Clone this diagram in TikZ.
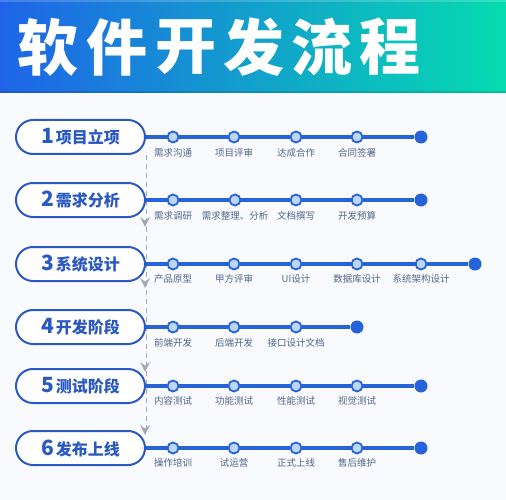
\documentclass[tikz,border=0pt]{standalone}
\usepackage{fontspec}
\setmainfont{Noto Sans CJK SC}
\usetikzlibrary{arrows.meta}
\definecolor{hdrL}{HTML}{1F64E8}
\definecolor{hdrR}{HTML}{05DCB0}
\definecolor{pillblue}{HTML}{2B59C2}
\definecolor{linblue}{HTML}{2763D8}
\definecolor{dotfill}{HTML}{BCD6F6}
\definecolor{labgray}{HTML}{52658A}
\definecolor{bgc}{HTML}{F8FAFD}
\definecolor{dashgray}{HTML}{A4A8B0}
\newcommand\pnum[1]{{\fontsize{21}{21}\selectfont\bfseries #1}\hspace{2pt}}
\newcommand\ptxt[1]{{\fontsize{16}{16}\selectfont\bfseries #1}}
\begin{document}
\begin{tikzpicture}[x=1pt,y=-1pt,
  pill/.style={draw=pillblue, line width=2pt, fill=white, rounded corners=17pt,
    minimum width=129pt, minimum height=34pt, inner sep=0pt, text=pillblue},
  sub/.style={circle, draw=linblue, line width=1.8pt, fill=dotfill, minimum size=11pt, inner sep=0pt},
  enddot/.style={circle, fill=linblue, minimum size=13pt, inner sep=0pt},
  lab/.style={font=\fontsize{9.5}{9.5}\selectfont, text=labgray, inner sep=0pt},
  conn/.style={draw=linblue, line width=3.5pt},
  ttl/.style={font=\fontsize{61}{61}\selectfont\bfseries, text=white, inner sep=0pt},
  guide/.style={draw=dashgray, line width=1pt, dash pattern=on 5pt off 4pt},
  tip/.style={fill=dashgray}]
\useasboundingbox (0,0) rectangle (506,500);
\fill[bgc] (0,0) rectangle (506,500);
% header
\fill[left color=hdrL, right color=hdrR] (0,0) rectangle (506,93);
\fill[white, opacity=0.18] (0,0) rectangle (506,2.5);
\fill[black, opacity=0.12] (0,91.5) rectangle (506,93);
\node[ttl] (t1) at (47.5,47) {软};
\node[ttl] (t2) at (117,47) {件};
\node[ttl] (t3) at (186,47) {开};
\node[ttl] (t4) at (253.5,47) {发};
\node[ttl] (t5) at (322,47) {流};
\node[ttl] (t6) at (390,47) {程};
% pills
\node[pill] (p1) at (80.5,137) {\pnum{1}\ptxt{项目立项}};
\node[pill] (p2) at (80.5,200) {\pnum{2}\ptxt{需求分析}};
\node[pill] (p3) at (80.5,264) {\pnum{3}\ptxt{系统设计}};
\node[pill] (p4) at (80.5,327) {\pnum{4}\ptxt{开发阶段}};
\node[pill] (p5) at (80.5,386) {\pnum{5}\ptxt{测试阶段}};
\node[pill] (p6) at (80.5,448) {\pnum{6}\ptxt{发布上线}};
% dashed guide with arrow tips
\coordinate (dtop) at (p1.east |- p1.south);
\coordinate (dbot) at (p6.east |- p6.north);
\draw[guide] (dtop) -- (dbot);
\foreach \ty [count=\k] in {227,288,372,435}{
  \coordinate (a\k) at (145,\ty);
  \fill[tip] (a\k) -- ++(-5,-10) -- ++(5,3.5) -- ++(5,-3.5) -- cycle;
}
% row 1
\foreach \x/\t [count=\i] in {173/需求沟通,234/项目评审,296/达成合作,357/合同签署}{
  \node[sub] (c1\i) at (\x,137) {};
  \node[lab] (l1\i) at (\x,153) {\t};
}
\node[enddot] (e1) at (421,137) {};
\draw[conn] (p1) -- (c11) -- (c12) -- (c13) -- (c14) -- (e1);
% row 2
\foreach \x/\t [count=\i] in {173/需求调研,235/需求整理、分析,296/文档撰写,357/开发预算}{
  \node[sub] (c2\i) at (\x,200) {};
  \node[lab] (l2\i) at (\x,216) {\t};
}
\node[enddot] (e2) at (421,200) {};
\draw[conn] (p2) -- (c21) -- (c22) -- (c23) -- (c24) -- (e2);
% row 3
\foreach \x/\t [count=\i] in {173/产品原型,234/甲方评审,296/UI设计,357/数据库设计,421/系统架构设计}{
  \node[sub] (c3\i) at (\x,264) {};
  \node[lab] (l3\i) at (\x,279) {\t};
}
\node[enddot] (e3) at (475,264) {};
\draw[conn] (p3) -- (c31) -- (c32) -- (c33) -- (c34) -- (c35) -- (e3);
% row 4
\foreach \x/\t [count=\i] in {173/前端开发,234/后端开发,296/接口设计文档}{
  \node[sub] (c4\i) at (\x,327) {};
  \node[lab] (l4\i) at (\x,343) {\t};
}
\node[enddot] (e4) at (357,327) {};
\draw[conn] (p4) -- (c41) -- (c42) -- (c43) -- (e4);
% row 5
\foreach \x/\t [count=\i] in {173/内容测试,234/功能测试,296/性能测试,357/视觉测试}{
  \node[sub] (c5\i) at (\x,386) {};
  \node[lab] (l5\i) at (\x,401) {\t};
}
\node[enddot] (e5) at (421,386) {};
\draw[conn] (p5) -- (c51) -- (c52) -- (c53) -- (c54) -- (e5);
% row 6
\foreach \x/\t [count=\i] in {173/操作培训,234/试运营,296/正式上线,357/售后维护}{
  \node[sub] (c6\i) at (\x,448) {};
  \node[lab] (l6\i) at (\x,463) {\t};
}
\node[enddot] (e6) at (421,448) {};
\draw[conn] (p6) -- (c61) -- (c62) -- (c63) -- (c64) -- (e6);
\end{tikzpicture}
\end{document}
